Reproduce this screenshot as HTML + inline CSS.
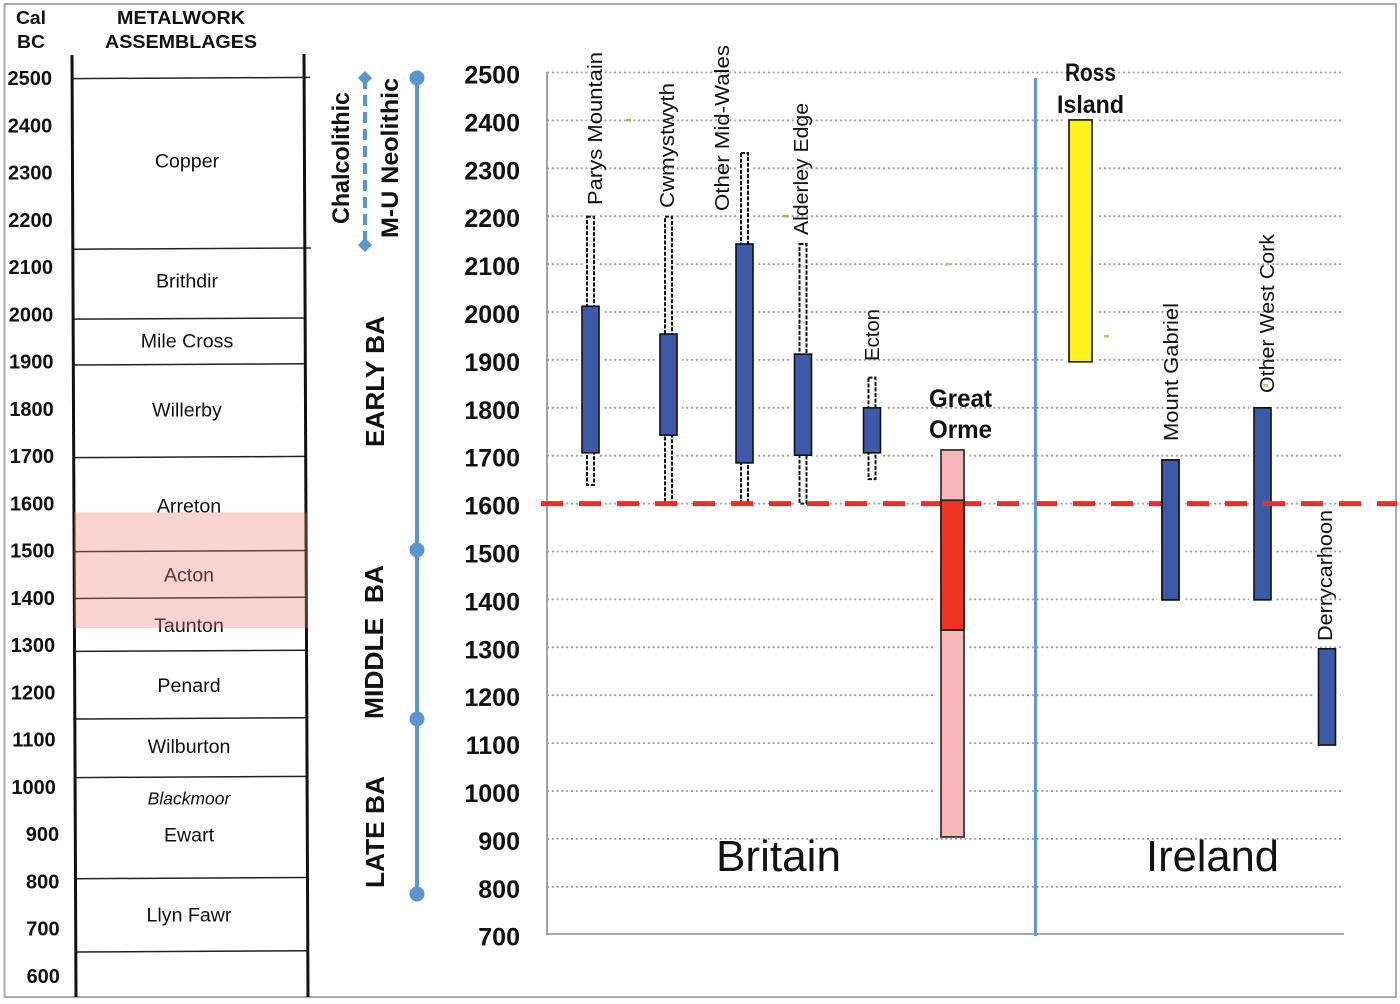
<!DOCTYPE html>
<html lang="en">
<head>
<meta charset="utf-8">
<title>Metalwork assemblages and copper mining chronology</title>
<style>
html,body{margin:0;padding:0;background:#fff;}
svg{display:block;filter:blur(0.35px);}
text{font-family:"Liberation Sans",Arial,sans-serif;fill:#111;}
.b{font-weight:bold;}
</style>
</head>
<body>
<svg id="chart" xmlns="http://www.w3.org/2000/svg" width="1400" height="1004" viewBox="0 0 1400 1004">
  <rect x="0" y="0" width="1400" height="1004" fill="#fff"/>
  <rect x="4.5" y="4" width="1391.5" height="993" fill="none" stroke="#ababab" stroke-width="2"/>

  <text class="b" x="16" y="24" font-size="18" textLength="30" lengthAdjust="spacingAndGlyphs">Cal</text>
  <text class="b" x="17" y="48" font-size="18" textLength="28" lengthAdjust="spacingAndGlyphs">BC</text>
  <text class="b" x="117" y="24" font-size="18" textLength="128" lengthAdjust="spacingAndGlyphs">METALWORK</text>
  <text class="b" x="105" y="48" font-size="18" textLength="152" lengthAdjust="spacingAndGlyphs">ASSEMBLAGES</text>

  <g id="left-panel"></g>

  <line x1="365" y1="78" x2="365" y2="245" stroke="#5b95d0" stroke-width="4" stroke-dasharray="11 6"/>
  <polygon points="365,71 372,78 365,85 358,78" fill="#5b95d0"/>
  <polygon points="365,238 372,245 365,252 358,245" fill="#5b95d0"/>
  <line x1="417" y1="78" x2="417" y2="894" stroke="#5b95d0" stroke-width="4"/>
  <circle cx="417" cy="78" r="7.5" fill="#5b95d0"/>
  <circle cx="417" cy="550" r="7.5" fill="#5b95d0"/>
  <circle cx="417" cy="719" r="7.5" fill="#5b95d0"/>
  <circle cx="417" cy="894" r="7.5" fill="#5b95d0"/>

  <text class="b" transform="translate(349,224) rotate(-90)" font-size="24" textLength="132" lengthAdjust="spacingAndGlyphs">Chalcolithic</text>
  <text class="b" transform="translate(398,238) rotate(-90)" font-size="24" textLength="160" lengthAdjust="spacingAndGlyphs">M-U Neolithic</text>
  <text class="b" transform="translate(384,447) rotate(-90)" font-size="26" textLength="131" lengthAdjust="spacingAndGlyphs" xml:space="preserve">EARLY BA</text>
  <text class="b" transform="translate(383,719) rotate(-90)" font-size="26" textLength="154" lengthAdjust="spacingAndGlyphs" xml:space="preserve">MIDDLE  BA</text>
  <text class="b" transform="translate(384,888) rotate(-90)" font-size="26" textLength="112" lengthAdjust="spacingAndGlyphs">LATE BA</text>

  <g id="right-panel"></g>

  <rect x="626" y="119" width="5" height="2.5" fill="#a3bb5a"/>
  <rect x="784" y="215" width="5" height="2.5" fill="#a3bb5a"/>
  <rect x="945" y="263" width="5" height="2.5" fill="#b5c87a"/>
  <rect x="1104" y="335" width="5" height="2.5" fill="#b5c87a"/>
  <rect x="1263" y="384" width="5" height="2.5" fill="#b5c87a"/>

  <text transform="translate(602,205) rotate(-90)" font-size="20" textLength="153" lengthAdjust="spacingAndGlyphs">Parys Mountain</text>
  <text transform="translate(674,208) rotate(-90)" font-size="20" textLength="125" lengthAdjust="spacingAndGlyphs">Cwmystwyth</text>
  <text transform="translate(729,211) rotate(-90)" font-size="20" textLength="166" lengthAdjust="spacingAndGlyphs">Other Mid-Wales</text>
  <text transform="translate(808,235) rotate(-90)" font-size="20" textLength="132" lengthAdjust="spacingAndGlyphs">Alderley Edge</text>
  <text transform="translate(879,361) rotate(-90)" font-size="20" textLength="52" lengthAdjust="spacingAndGlyphs">Ecton</text>
  <text transform="translate(1178,441) rotate(-90)" font-size="20" textLength="138" lengthAdjust="spacingAndGlyphs">Mount Gabriel</text>
  <text transform="translate(1274,393) rotate(-90)" font-size="20" textLength="159" lengthAdjust="spacingAndGlyphs">Other West Cork</text>
  <text transform="translate(1332,641) rotate(-90)" font-size="20" textLength="131" lengthAdjust="spacingAndGlyphs">Derrycarhoon</text>

  <text class="b" x="929" y="407" font-size="25" textLength="63" lengthAdjust="spacingAndGlyphs">Great</text>
  <text class="b" x="929" y="438" font-size="25" textLength="63" lengthAdjust="spacingAndGlyphs">Orme</text>
  <text class="b" x="1065" y="81" font-size="25" textLength="51" lengthAdjust="spacingAndGlyphs">Ross</text>
  <text class="b" x="1057" y="113" font-size="25" textLength="67" lengthAdjust="spacingAndGlyphs">Island</text>
  <text x="716" y="871" font-size="44" textLength="125" lengthAdjust="spacingAndGlyphs">Britain</text>
  <text x="1146" y="871" font-size="44" textLength="133" lengthAdjust="spacingAndGlyphs">Ireland</text>
</svg>

<script>
// ---- left panel data ----
const leftYearTicks = [2500,2400,2300,2200,2100,2000,1900,1800,1700,1600,1500,1400,1300,1200,1100,1000,900,800,700,600];
const assemblageBoundaries = [2500,2139,1991,1894,1698,1499,1400,1288,1145,1021,807,652];
const assemblageNames = ['Copper','Brithdir','Mile Cross','Willerby','Arreton','Acton','Taunton','Penard','Wilburton','Blackmoor','Ewart','Llyn Fawr'];
const assemblageLabelYears = [2324,2070,1943,1797,1594,1448,1342,1215,1085,977,898,729];
const highlightedYears = [1581,1336];

// ---- right panel data ----
const rightYearTicks = [2500,2400,2300,2200,2100,2000,1900,1800,1700,1600,1500,1400,1300,1200,1100,1000,900,800,700];
const sites = ['Parys Mountain','Cwmystwyth','Other Mid-Wales','Alderley Edge','Ecton','Ross Island','Mount Gabriel','Other West Cork','Derrycarhoon'];
const rangeStart = [2012,1954,2142,1912,1800,2401,1691,1800,1297];
const rangeEnd = [1706,1743,1685,1701,1706,1896,1399,1399,1096];
const extendedStart = [2199,2199,2332,2142,1863,null,null,null,null];
const extendedEnd = [1639,1600,1600,1600,1651,null,null,null,null];
const greatOrmeOverall = [1712,904];
const greatOrmeMain = [1607,1336];
const thresholdYear = [1600];

// ---- layout (not data) ----
const siteLayout = {
  'Parys Mountain':{cx:590.5,w:17},'Cwmystwyth':{cx:668.5,w:17},'Other Mid-Wales':{cx:744.5,w:17},
  'Alderley Edge':{cx:803,w:17},'Ecton':{cx:872,w:17},'Ross Island':{cx:1080.5,w:23},
  'Mount Gabriel':{cx:1170.5,w:17},'Other West Cork':{cx:1262.5,w:17},'Derrycarhoon':{cx:1327,w:17}
};
const ormeLayout = {cx:952.5,w:23};

const yLeft = v => 78 + (2500 - v) * 0.4726;
const yRight = v => 72.5 + (2500 - v) * 0.479;
const leftEdge = y => 72 + (y - 55) * 0.00425;
const NS = 'http://www.w3.org/2000/svg';
function make(tag, attrs, parent, txt) {
  const el = document.createElementNS(NS, tag);
  for (const k in attrs) el.setAttribute(k, attrs[k]);
  if (txt !== undefined) el.textContent = txt;
  parent.appendChild(el);
  return el;
}
const slug = s => String(s).toLowerCase().replace(/[^a-z0-9]+/g, '-');

// ---------- left panel ----------
const lp = document.getElementById('left-panel');
leftYearTicks.forEach(v => {
  const t = make('text', {x: 52 + (2500 - v) * 0.0026 + (v < 1000 ? 3 : 0), y: yLeft(v) + 7, 'font-size': 20, 'text-anchor': 'end', 'font-weight': 'bold'}, lp, v);
  
  
});
assemblageBoundaries.forEach(v => {
  const y = yLeft(v);
  const extend = (v === 2500 || v === 2139) ? 6 : 1;
  const l = make('line', {x1: leftEdge(y), y1: y + 0.6, x2: 304 + (y - 55) * 0.00425 + extend, y2: y - 0.6, stroke: '#222', 'stroke-width': 1.5}, lp);
  
  
});
const axisL = make('line', {x1: 72, y1: 55, x2: 76, y2: 997, stroke: '#111', 'stroke-width': 3}, lp);


const axisR = make('line', {x1: 304, y1: 54, x2: 308, y2: 997, stroke: '#111', 'stroke-width': 3}, lp);


assemblageNames.forEach((n, i) => {
  const t = make('text', {x: 187 + (i > 3 ? 2 : 0), y: yLeft(assemblageLabelYears[i]) + 6.5, 'font-size': n === 'Blackmoor' ? 17.5 : 19.6, 'text-anchor': 'middle', 'font-style': n === 'Blackmoor' ? 'italic' : 'normal'}, lp, n);
  
  
});
const band = make('rect', {x: 74, y: yLeft(highlightedYears[0]), width: 234, height: yLeft(highlightedYears[1]) - yLeft(highlightedYears[0]), fill: '#ee7676', 'fill-opacity': 0.33}, lp);



// ---------- right panel ----------
const rp = document.getElementById('right-panel');
rightYearTicks.forEach(v => {
  const t = make('text', {x: 520, y: yRight(v) + 11, 'font-size': 25, 'text-anchor': 'end', 'font-weight': 'bold'}, rp, v);
  
  
  if (v === 700) return;
  const g = make('line', {x1: 547, y1: yRight(v), x2: 1344, y2: yRight(v), stroke: '#9c9c9c', 'stroke-width': 1.8, 'stroke-dasharray': '2 2.8'}, rp);
  
  
});
const xAxis = make('line', {x1: 546, y1: 934, x2: 1344, y2: 934, stroke: '#9a9a9a', 'stroke-width': 1.8}, rp);


const yAxis = make('line', {x1: 547, y1: 72, x2: 547, y2: 934, stroke: '#9a9a9a', 'stroke-width': 1.8}, rp);



function halo(cx, w, hi, lo) {
  const h = make('rect', {x: cx - w / 2 - 5, y: yRight(hi) - 1, width: w + 10, height: yRight(lo) - yRight(hi) + 2, fill: '#fff'}, rp);
  
  
}
function drawBar(i) {
  const s = sites[i], L = siteLayout[s];
  const b = make('rect', {x: L.cx - L.w / 2, y: yRight(rangeStart[i]), width: L.w, height: yRight(rangeEnd[i]) - yRight(rangeStart[i]), fill: s === 'Ross Island' ? '#fff21c' : '#3c5aa8', stroke: '#111', 'stroke-width': 1.6}, rp);
  
  
}

// halos behind marks
sites.forEach((s, i) => {
  const L = siteLayout[s];
  halo(L.cx, L.w, rangeStart[i], rangeEnd[i]);
  if (extendedStart[i] !== null) halo(L.cx, 6, extendedStart[i], extendedEnd[i]);
});
halo(ormeLayout.cx, ormeLayout.w, greatOrmeOverall[0], greatOrmeOverall[1]);

// dashed extended ranges
sites.forEach((s, i) => {
  if (extendedStart[i] === null) return;
  const L = siteLayout[s];
  const w = make('rect', {x: L.cx - 3.5, y: yRight(extendedStart[i]), width: 7, height: yRight(extendedEnd[i]) - yRight(extendedStart[i]), fill: '#fff', stroke: '#111', 'stroke-width': 2, 'stroke-dasharray': '4 1.6'}, rp);
  
  
});

const ormeLight = make('rect', {x: ormeLayout.cx - ormeLayout.w / 2, y: yRight(greatOrmeOverall[0]), width: ormeLayout.w, height: yRight(greatOrmeOverall[1]) - yRight(greatOrmeOverall[0]), fill: '#f8b6b8', stroke: '#222', 'stroke-width': 1.6}, rp);



// bars below the threshold line
sites.forEach((s, i) => { if (s !== 'Other West Cork') drawBar(i); });
drawBar(sites.indexOf('Other West Cork'));

// threshold line sits over West Cork but under Mount Gabriel and the Great Orme main block
const threshold = make('line', {x1: 541, y1: yRight(thresholdYear[0]), x2: 1397, y2: yRight(thresholdYear[0]), stroke: '#ee2b2b', 'stroke-width': 5, 'stroke-dasharray': '22 16'}, rp);


drawBar(sites.indexOf('Mount Gabriel'));

const ormeMain = make('rect', {x: ormeLayout.cx - ormeLayout.w / 2, y: yRight(greatOrmeMain[0]), width: ormeLayout.w, height: yRight(greatOrmeMain[1]) - yRight(greatOrmeMain[0]), fill: '#f03423', stroke: '#222', 'stroke-width': 1.8}, rp);



const divider = make('line', {x1: 1035.5, y1: 78, x2: 1035.5, y2: 936, stroke: '#5b9bd5', 'stroke-width': 3}, rp);


</script>
</body>
</html>
